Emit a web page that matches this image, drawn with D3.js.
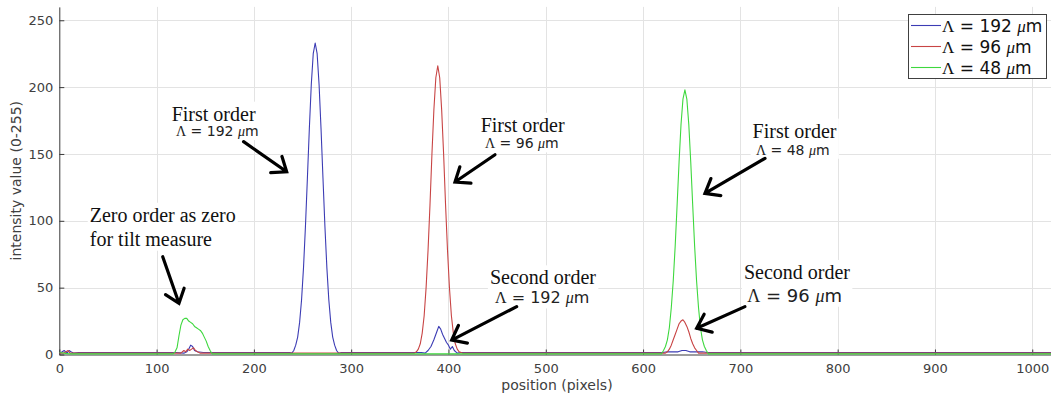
<!DOCTYPE html>
<html>
<head>
<meta charset="utf-8">
<script src="https://cdn.jsdelivr.net/npm/d3@7"></script>
<style>
  body { margin: 0; background: #fff; }
  svg { display: block; }
</style>
</head>
<body>
<svg id="chart" width="1051" height="399"></svg>
<script>
// ---- data -------------------------------------------------------------
const xTicks = [0, 100, 200, 300, 400, 500, 600, 700, 800, 900, 1000];
const yTicks = [0, 50, 100, 150, 200, 250];

// intensity profiles, [position (pixels), intensity (0-255)]
const lambda192 = [
  [0,1],[3,2],[5,3],[8,1],[10,3],[12,2],[15,1],[20,1.5],
  [120,1.5],[128,1],[131,2],[133,4],[135,7],[137,6],[139,3],[142,2],[148,1.5],
  [237,1.5],[239,1],[241,3],[243,7],[245,13],[247,24],[249,41],[251,65],[253,96],[255,132],
  [257,169],[259,202],[261,225],[263,233],[265,225],[267,202],[269,169],[271,132],[273,96],
  [275,65],[277,41],[279,24],[281,13],[283,7],[285,3],[287,1],[290,1.5],
  [372,1.5],[376,1],[379,3],[382,6],[385,11],[388,17],[390,21],[392,19],[394,15],[396,12],
  [398,9],[400,7],[402,4],[404,6],[406,3],[409,1],[413,1.5],
  [620,1.5],[625,2],[630,2],[636,2],[640,3],[644,3],[648,2],[655,2],[661,2],[666,1.5],
  [1024,1.5]
];
const lambda96 = [
  [0,1],[4,1],[7,2],[9,3],[11,1],[15,1],[20,1],
  [125,1],[128,3],[130,2],[132,4],[134,3],[136,4],[138,5],[140,3],[142,2],[145,1],
  [365,1],[367,2],[369,4],[371,8],[373,16],[375,29],[377,50],[379,78],[381,112],[383,150],
  [385,183],[387,207],[389,216],[391,207],[393,183],[395,150],[397,112],[399,78],[401,50],
  [403,29],[405,16],[407,8],[409,4],[411,2],[415,1],
  [623,1],[625,2],[627,4],[629,7],[631,11],[633,15],[635,19],[637,23],[639,25],[641,26],
  [643,24],[645,21],[647,17],[649,12],[651,8],[653,5],[655,3],[657,1],
  [1024,1]
];
const lambda48 = [
  [0,1.5],[10,0.5],[20,0.5],
  [117,0.5],[119,2],[121,5],[123,14],[125,22],[127,26],[129,27],[131,27],[133,25],[135,24],
  [137,23],[139,21],[141,20],[143,19],[145,18],[147,16],[149,13],[151,10],[153,6],[155,3],[157,0.5],
  [619,0.5],[621,3],[623,6],[625,11],[627,20],[629,35],[631,55],[633,81],[635,112],[637,144],
  [639,172],[641,191],[643,198],[645,191],[647,172],[649,144],[651,112],[653,81],[655,55],
  [657,35],[659,20],[661,11],[663,6],[665,3],[667,0.5],
  [1024,0.5]
];

const periods = ["192", "96", "48"];
const seriesColors = ["#3c3cb4", "#c84444", "#3ed83e"];
const seriesData = [lambda192, lambda96, lambda48];

// callouts: title lines, period sub-label and arrow (tail -> tip), in data units
const callouts = [
  { title: ["Zero order as zero", "for tilt measure"], at: [31.3, 99.3], lead: 24,
    period: null, arrow: [[106.3, 73.1], [123, 38.3]] },
  { title: ["First order"], at: [115.5, 174.9], period: "192", periodAt: [119.9, 163.4], periodSize: 14,
    arrow: [[189.4, 159.2], [233.7, 136.7]] },
  { title: ["First order"], at: [433.1, 166.6], period: "96", periodAt: [437.5, 154.2], periodSize: 14,
    arrow: [[447.8, 149.4], [406.7, 129]] },
  { title: ["First order"], at: [712.6, 162.2], period: "48", periodAt: [716, 149.4], periodSize: 14,
    arrow: [[725.3, 146.7], [663.6, 120.5]] },
  { title: ["Second order"], at: [442.6, 52.5], period: "192", periodAt: [447.8, 38.2], periodSize: 16,
    arrow: [[470.1, 35.8], [403.3, 10.8]] },
  { title: ["Second order"], at: [703.7, 56.5], period: "96", periodAt: [707.1, 39.5], periodSize: 18,
    arrow: [[704.7, 35.8], [655.1, 19.6]] }
];

// ---- layout -----------------------------------------------------------
const W = 1051, H = 399;
const svg = d3.select("#chart");
const x = d3.scaleLinear().domain([0, 1024]).range([59.3, 1055.6]);
const y = d3.scaleLinear().domain([0, 260]).range([354.5, 6.9]);
const sans = "'DejaVu Sans', sans-serif";
const serif = "'Liberation Serif', 'Times New Roman', serif";

// grid
const grid = svg.append("g").attr("stroke", "#e3e3e3").attr("stroke-width", 1);
grid.selectAll("line.gx").data(xTicks.filter(d => d > 0)).join("line")
  .attr("class", "gx")
  .attr("x1", d => Math.round(x(d)) + 0.5).attr("x2", d => Math.round(x(d)) + 0.5)
  .attr("y1", y(0)).attr("y2", y(260));
grid.selectAll("line.gy").data(yTicks.filter(d => d > 0)).join("line")
  .attr("class", "gy")
  .attr("x1", x(0)).attr("x2", W)
  .attr("y1", d => Math.round(y(d)) + 0.5).attr("y2", d => Math.round(y(d)) + 0.5);

// axes
const axisColor = "#3a3a3a";
const gx = svg.append("g").attr("transform", `translate(0,${y(0)})`)
  .call(d3.axisBottom(x).tickValues(xTicks).tickFormat(d3.format("d"))
    .tickSizeInner(-5).tickSizeOuter(0).tickPadding(9));
const gy = svg.append("g").attr("transform", `translate(${x(0)},0)`)
  .call(d3.axisLeft(y).tickValues(yTicks).tickFormat(d3.format("d"))
    .tickSizeInner(-5).tickSizeOuter(0).tickPadding(6));
[gx, gy].forEach(g => {
  g.select(".domain").attr("stroke", axisColor);
  g.selectAll(".tick line").attr("stroke", axisColor);
  g.selectAll(".tick text").attr("fill", "#404040")
    .style("font-family", sans).style("font-size", "13px");
});

svg.append("text").attr("x", 557).attr("y", 390).attr("text-anchor", "middle")
  .style("font-family", sans).style("font-size", "14px").attr("fill", "#404040")
  .text("position (pixels)");
svg.append("text").attr("transform", `translate(21,${(y(0) + y(260)) / 2}) rotate(-90)`)
  .attr("text-anchor", "middle")
  .style("font-family", sans).style("font-size", "14px").attr("fill", "#404040")
  .text("intensity value (0-255)");

// profiles
svg.append("clipPath").attr("id", "plotClip").append("rect")
  .attr("x", x(0)).attr("y", y(260)).attr("width", W - x(0)).attr("height", y(0) - y(260) + 2);
const line = d3.line().x(d => x(d[0])).y(d => y(d[1]));
svg.append("g").attr("clip-path", "url(#plotClip)")
  .selectAll("path").data(seriesData).join("path")
  .attr("d", line).attr("fill", "none")
  .attr("stroke", (d, i) => seriesColors[i]).attr("stroke-width", 1.1)
  .attr("stroke-linejoin", "round");

// "Λ = N μm" label built from tspans
function periodLabel(sel, p) {
  sel.append("tspan").style("font-family", serif).text("Λ");
  sel.append("tspan").style("font-family", sans).text(` = ${p} `);
  sel.append("tspan").style("font-family", serif).style("font-style", "italic").text("μ");
  sel.append("tspan").style("font-family", sans).text("m");
}

// callouts
callouts.forEach(c => {
  const g = svg.append("g");
  const tg = g.append("g");
  c.title.forEach((t, i) => {
    tg.append("text").attr("x", x(c.at[0])).attr("y", y(c.at[1]) + i * (c.lead || 0))
      .style("font-family", serif).style("font-size", "20px").attr("fill", "#111").text(t);
  });
  if (c.period) {
    const pt = tg.append("text").attr("x", x(c.periodAt[0])).attr("y", y(c.periodAt[1]))
      .style("font-size", c.periodSize + "px").attr("fill", "#222");
    periodLabel(pt, c.period);
  }
  const bb = tg.node().getBBox();
  tg.insert("rect", "text").attr("x", bb.x - 2).attr("y", bb.y - 1)
    .attr("width", bb.width + 4).attr("height", bb.height + 2).attr("fill", "#fff");

  const [tx, ty] = [x(c.arrow[0][0]), y(c.arrow[0][1])];
  const [px, py] = [x(c.arrow[1][0]), y(c.arrow[1][1])];
  const ang = Math.atan2(py - ty, px - tx);
  const len = 16, spread = 38 * Math.PI / 180;
  const w1 = [px - len * Math.cos(ang - spread), py - len * Math.sin(ang - spread)];
  const w2 = [px - len * Math.cos(ang + spread), py - len * Math.sin(ang + spread)];
  g.append("path")
    .attr("d", `M${tx},${ty}L${px},${py}M${w1[0]},${w1[1]}L${px},${py}L${w2[0]},${w2[1]}`)
    .attr("fill", "none").attr("stroke", "#000").attr("stroke-width", 3.2)
    .attr("stroke-linecap", "round").attr("stroke-linejoin", "miter");
});

// legend
const lg = svg.append("g");
lg.append("rect").attr("x", 908.5).attr("y", 14.5).attr("width", 138).attr("height", 64)
  .attr("fill", "#fff").attr("stroke", "#404040").attr("stroke-width", 1);
periods.forEach((p, i) => {
  const cy = 25.5 + i * 21;
  lg.append("line").attr("x1", 911).attr("x2", 941).attr("y1", cy).attr("y2", cy)
    .attr("stroke", seriesColors[i]).attr("stroke-width", 1.1);
  const t = lg.append("text").attr("x", 942).attr("y", cy + 6)
    .style("font-size", "17px").attr("fill", "#111");
  periodLabel(t, p);
});
</script>
</body>
</html>
